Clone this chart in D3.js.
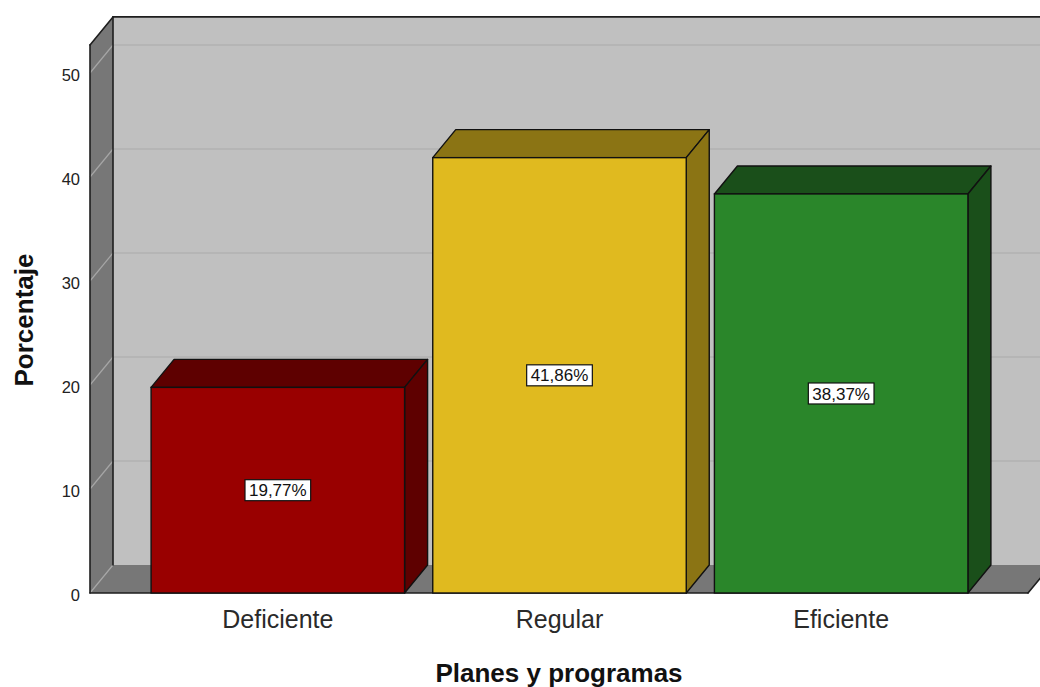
<!DOCTYPE html>
<html>
<head>
<meta charset="utf-8">
<script src="https://cdn.jsdelivr.net/npm/d3@7"></script>
<style>
  html, body { margin: 0; padding: 0; background: #ffffff; }
  svg { display: block; }
</style>
</head>
<body>
<svg id="chart" width="1040" height="687"></svg>
<script>
// ---- data ----
const categories = ["Deficiente", "Regular", "Eficiente"];
const values = [19.77, 41.86, 38.37];
const valueLabels = ["19,77%", "41,86%", "38,37%"];
const yTicks = [0, 10, 20, 30, 40, 50];
const frontColors = ["#990000", "#e0ba1f", "#2a862a"];
const shadeColors = ["#5e0000", "#8b7414", "#1a4f1a"];
const xTitle = "Planes y programas";
const yTitle = "Porcentaje";

// ---- layout ----
const W = 1040, H = 687;
const dx = 23, dy = 28;            // 3D depth offset
const wallLeft = 90, wallRight = 1028;
const font = "'Liberation Sans', Arial, sans-serif";

const svg = d3.select("#chart");

const x = d3.scaleBand().domain(categories)
  .range([137, 982]).paddingInner(0.1).paddingOuter(0.05);
const y = d3.scaleLinear().domain([0, 50]).range([593, 73]);

const y0 = y(0);
const yTop = y(52.7);

// ---- walls ----
const g = svg.append("g");
const pts = a => a.map(p => p.join(",")).join(" ");

// back wall
g.append("polygon")
  .attr("points", pts([[wallLeft + dx, yTop - dy], [wallRight + dx, yTop - dy], [wallRight + dx, y0 - dy], [wallLeft + dx, y0 - dy]]))
  .attr("fill", "#c0c0c0");
// left wall
g.append("polygon")
  .attr("points", pts([[wallLeft, yTop], [wallLeft + dx, yTop - dy], [wallLeft + dx, y0 - dy], [wallLeft, y0]]))
  .attr("fill", "#777777");
// floor
g.append("polygon")
  .attr("points", pts([[wallLeft, y0], [wallLeft + dx, y0 - dy], [wallRight + dx, y0 - dy], [wallRight, y0]]))
  .attr("fill", "#777777");

// gridlines
yTicks.forEach(t => {
  const yy = y(t);
  if (t > 0) {
    g.append("line")
      .attr("x1", wallLeft + dx).attr("x2", wallRight + dx)
      .attr("y1", yy - dy).attr("y2", yy - dy)
      .attr("stroke", "#b2b2b2").attr("stroke-width", 1.5);
  }
  g.append("line")
    .attr("x1", wallLeft).attr("y1", yy)
    .attr("x2", wallLeft + dx).attr("y2", yy - dy)
    .attr("stroke", "#a6a6a6").attr("stroke-width", 1.2);
});

// wall edges
const edge = (x1, y1, x2, y2) => g.append("line")
  .attr("x1", x1).attr("y1", y1).attr("x2", x2).attr("y2", y2)
  .attr("stroke", "#1e1e1e").attr("stroke-width", 1.6).attr("stroke-linecap", "round");
edge(wallLeft, yTop, wallLeft, y0);
edge(wallLeft, yTop, wallLeft + dx, yTop - dy);
edge(wallLeft + dx, yTop - dy, wallRight + dx, yTop - dy);
edge(wallLeft + dx, yTop - dy, wallLeft + dx, y0 - dy);
edge(wallLeft, y0, wallRight, y0);
edge(wallRight, y0, wallRight + dx, y0 - dy);

// ---- y tick labels ----
svg.append("g").selectAll("text").data(yTicks).join("text")
  .attr("x", 80).attr("y", d => y(d))
  .attr("dy", "0.5em")
  .attr("text-anchor", "end")
  .attr("font-family", font).attr("font-size", 16.5)
  .attr("fill", "#222")
  .text(d => d);

// ---- bars ----
const bars = svg.append("g").selectAll("g").data(categories).join("g");
bars.each(function (c, i) {
  const sel = d3.select(this);
  const x0 = x(c), x1 = x(c) + x.bandwidth();
  const yv = y(values[i]);
  const stroke = "#111", sw = 1.4;
  sel.append("polygon")
    .attr("points", pts([[x0, yv], [x0 + dx, yv - dy], [x1 + dx, yv - dy], [x1, yv]]))
    .attr("fill", shadeColors[i]).attr("stroke", stroke).attr("stroke-width", sw).attr("stroke-linejoin", "round");
  sel.append("polygon")
    .attr("points", pts([[x1, yv], [x1 + dx, yv - dy], [x1 + dx, y0 - dy], [x1, y0]]))
    .attr("fill", shadeColors[i]).attr("stroke", stroke).attr("stroke-width", sw).attr("stroke-linejoin", "round");
  sel.append("rect")
    .attr("x", x0).attr("y", yv).attr("width", x1 - x0).attr("height", y0 - yv)
    .attr("fill", frontColors[i]).attr("stroke", stroke).attr("stroke-width", sw);

  // value label
  const cx = (x0 + x1) / 2, cy = (yv + y0) / 2;
  const lg = sel.append("g");
  const rect = lg.append("rect");
  const txt = lg.append("text")
    .attr("x", cx).attr("y", cy).attr("dy", "0.36em")
    .attr("text-anchor", "middle")
    .attr("font-family", font).attr("font-size", 17)
    .attr("fill", "#111")
    .text(valueLabels[i]);
  const bb = txt.node().getBBox();
  rect.attr("x", bb.x - 4).attr("y", cy - 10.5)
    .attr("width", bb.width + 8).attr("height", 21)
    .attr("fill", "#ffffff").attr("stroke", "#111").attr("stroke-width", 1.2);
});

// ---- category labels ----
svg.append("g").selectAll("text").data(categories).join("text")
  .attr("x", d => x(d) + x.bandwidth() / 2)
  .attr("y", 628)
  .attr("text-anchor", "middle")
  .attr("font-family", font).attr("font-size", 25)
  .attr("fill", "#2a2a2a")
  .text(d => d);

// ---- axis titles ----
svg.append("text")
  .attr("x", 559).attr("y", 682)
  .attr("text-anchor", "middle")
  .attr("font-family", font).attr("font-size", 26).attr("font-weight", "bold")
  .attr("fill", "#111")
  .text(xTitle);

svg.append("text")
  .attr("transform", "translate(33,320) rotate(-90)")
  .attr("text-anchor", "middle")
  .attr("font-family", font).attr("font-size", 26).attr("font-weight", "bold")
  .attr("fill", "#111")
  .text(yTitle);
</script>
</body>
</html>
